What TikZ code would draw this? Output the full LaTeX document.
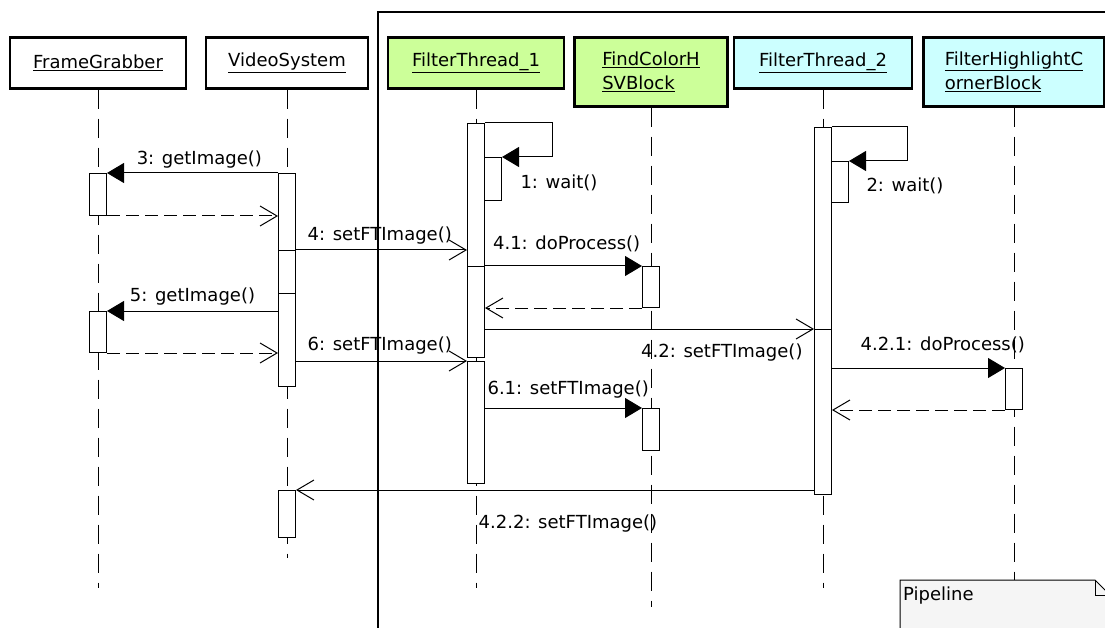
\documentclass[tikz,border=0pt]{standalone}
\usepackage{fontspec}
\setmainfont{DejaVu Sans}
\usetikzlibrary{arrows.meta,calc,positioning}
\definecolor{ThreadGreen}{HTML}{CCFF99}
\definecolor{ThreadCyan}{HTML}{CCFFFF}
\definecolor{NoteGray}{HTML}{F5F5F5}

\begin{document}
\begin{tikzpicture}[
    x=1pt, y=-1pt,
    font=\fontsize{18}{24}\selectfont,
    obj/.style={draw,line width=2.6pt,minimum height=51pt,inner sep=0pt,anchor=north,align=left},
    life/.style={line width=1pt,dash pattern=on 19pt off 10pt},
    act/.style={draw,fill=white,line width=1pt,minimum width=17pt,inner sep=0pt,anchor=north},
    call/.style={line width=1pt,-{Triangle[length=17pt,width=20pt]}},
    msg/.style={line width=1pt,-{Straight Barb[length=17pt,width=20pt]}},
    ret/.style={msg,dash pattern=on 13pt off 6pt},
    lbl/.style={inner sep=0pt}
  ]
  \clip (0,0) rectangle (1105,628);
  \fill[white] (0,0) rectangle (1105,628);

  % pipeline frame
  \draw[line width=2.6pt] (378,640) -- (378,12) -- (1120,12);

  % objects
  \node[obj,minimum width=176pt] (fg) at (98,36) {\underline{FrameGrabber}};
  \node[obj,minimum width=162pt] (vs) at (287,36) {\underline{VideoSystem}};
  \node[obj,minimum width=176pt,fill=ThreadGreen] (ft1) at (476,36) {\underline{FilterThread\_1}};
  \node[obj,minimum width=153pt,minimum height=69pt,fill=ThreadGreen] (fc) at (651,36) {\underline{FindColorH}\\\underline{SVBlock}};
  \node[obj,minimum width=178pt,fill=ThreadCyan] (ft2) at (823,36) {\underline{FilterThread\_2}};
  \node[obj,minimum width=181pt,minimum height=69pt,fill=ThreadCyan] (fh) at (1014,36) {\underline{FilterHighlightC}\\\underline{ornerBlock}};

  % lifelines
  \coordinate (fgend) at (98,588);
  \coordinate (vsend) at (287,558);
  \coordinate (ft1end) at (476,588);
  \coordinate (fcend) at (651,607);
  \coordinate (ft2end) at (823,588);
  \coordinate (fhend) at (1014,580);
  \draw[life] (fg.south) -- (fgend);
  \draw[life] (vs.south) -- (vsend);
  \draw[life] (ft1.south) -- (ft1end);
  \draw[life] (fc.south) -- (fcend);
  \draw[life] (ft2.south) -- (ft2end);
  \draw[life] (fh.south) -- (fhend);

  % activations
  \node[act,minimum height=42pt] (fg1) at (98,173) {};
  \node[act,minimum height=41pt] (fg2) at (98,311) {};
  \node[act,minimum height=77pt] (vs1) at (287,173) {};
  \node[act,minimum height=43pt] (vs2) at (287,250) {};
  \node[act,minimum height=93pt] (vs3) at (287,293) {};
  \node[act,minimum height=47pt] (vs4) at (287,490) {};
  \node[act,minimum height=143pt] (ft1a) at (476,123) {};
  \node[act,minimum height=43pt] (ft1w) at (493,157) {};
  \node[act,minimum height=91pt] (ft1b) at (476,266) {};
  \node[act,minimum height=122pt] (ft1c) at (476,361) {};
  \node[act,minimum height=41pt] (fc1) at (651,266) {};
  \node[act,minimum height=42pt] (fc2) at (651,408) {};
  \node[act,minimum height=202pt] (ft2a) at (823,127) {};
  \node[act,minimum height=41pt] (ft2w) at (840,161) {};
  \node[act,minimum height=165pt] (ft2b) at (823,329) {};
  \node[act,minimum height=41pt] (fh1) at (1014,368) {};

  % self calls
  \draw[call] (ft1a.north east) -| (552,157) -- (ft1w.north east);
  \node[lbl] (w1) at (559,183) {1: wait()};
  \draw[call] (ft2a.north east) -| (907,161) -- (ft2w.north east);
  \node[lbl] (w2) at (905,186) {2: wait()};

  % messages
  \draw[call] (vs1.west |- fg1.north) -- node[lbl,above=4pt,pos=.46] {3: getImage()} (fg1.north east);
  \draw[ret] (fg1.south east) -- (vs1.west |- fg1.south);
  \draw[msg] (vs2.north east) -- node[lbl,above=5pt,pos=.49] {4: setFTImage()} (ft1a.west |- vs2.north);
  \draw[call] (ft1b.north east) -- node[lbl,above=14pt,pos=.52] {4.1: doProcess()} (fc1.north west);
  \draw[ret] (fc1.south west) -- (ft1b.east |- fc1.south);
  \draw[msg] (ft1b.east |- ft2b.north) -- node[lbl,below=14pt,pos=.72] {4.2: setFTImage()} (ft2b.north west);
  \draw[call] (ft2b.east |- fh1.north) -- node[lbl,above=15pt,pos=.64] {4.2.1: doProcess()} (fh1.north west);
  \draw[ret] (fh1.south west) -- (ft2b.east |- fh1.south);
  \draw[call] (vs3.west |- fg2.north) -- node[lbl,above=5pt,pos=.5] {5: getImage()} (fg2.north east);
  \draw[ret] (fg2.south east) -- (vs3.west |- fg2.south);
  \draw[msg] (vs3.east |- ft1c.north) -- node[lbl,above=6pt,pos=.49] {6: setFTImage()} (ft1c.north west);
  \draw[call] (ft1c.east |- fc2.north) -- node[lbl,above=9pt,pos=.53] {6.1: setFTImage()} (fc2.north west);
  \draw[msg] (ft2b.west |- vs4.north) -- node[lbl,below=24pt,pos=.475] {4.2.2: setFTImage()} (vs4.north east);

  % note
  \filldraw[fill=NoteGray,line width=1pt] (900,640) -- (900,580) -- (1095,580) -- (1110,595) -- (1110,640) -- cycle;
  \draw[line width=1pt] (1095,580) -- (1095,595) -- (1110,595);
  \node[lbl,anchor=west] (pipe) at (903,596) {Pipeline};
\end{tikzpicture}
\end{document}
